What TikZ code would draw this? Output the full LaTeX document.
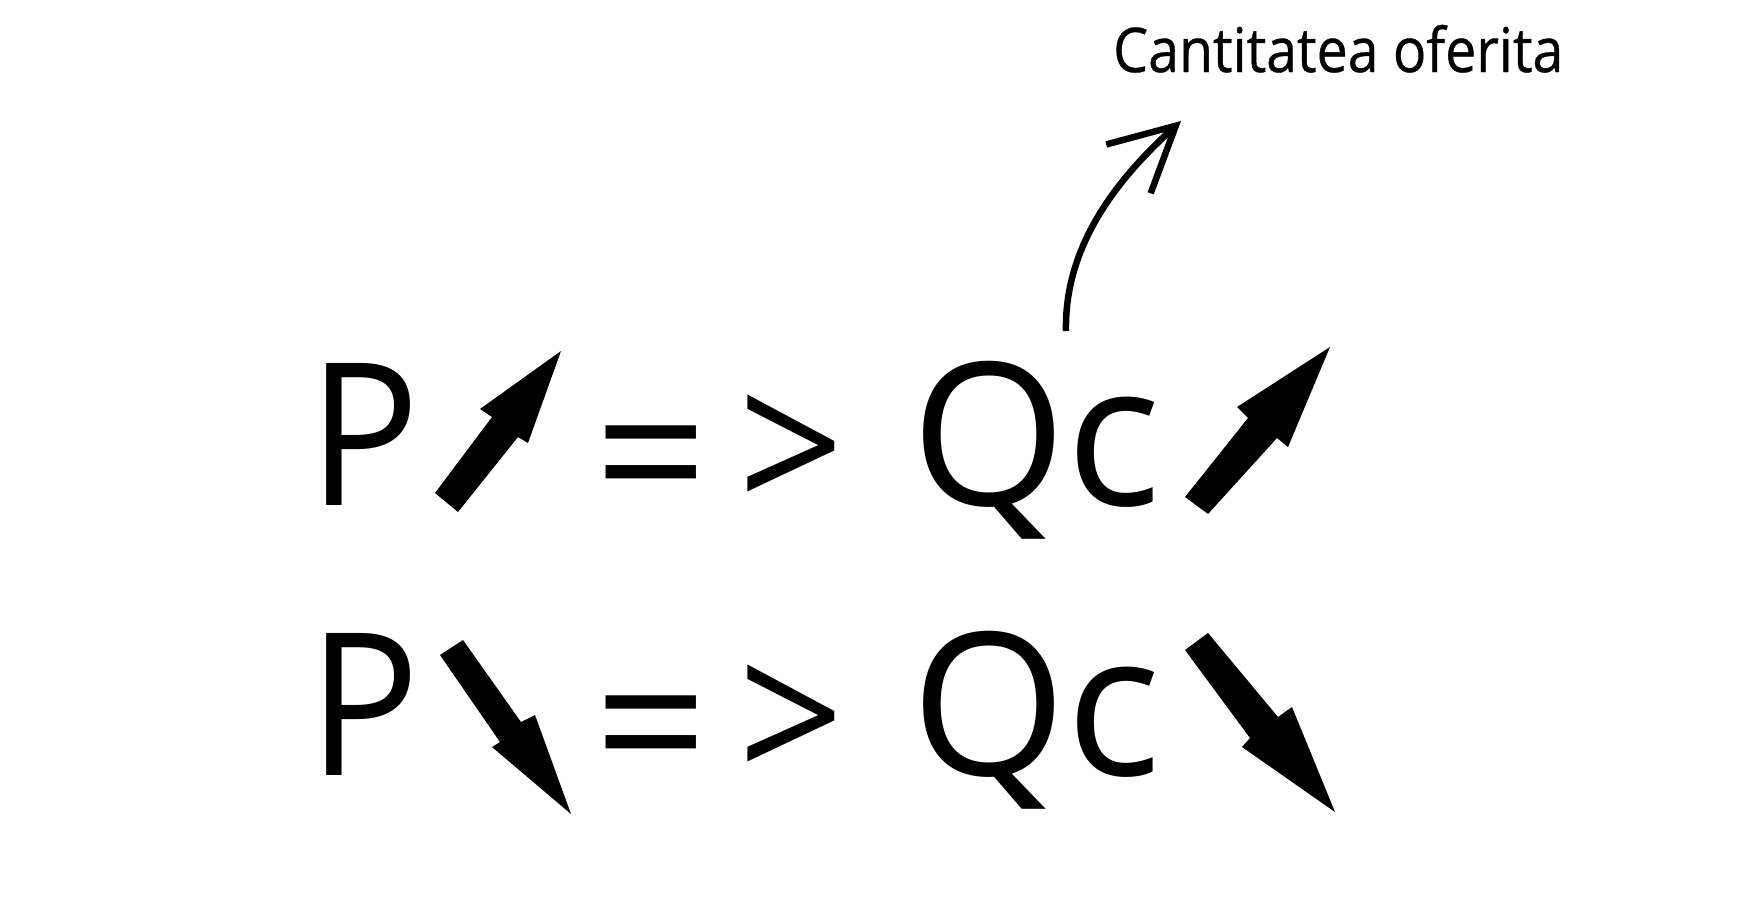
\documentclass[tikz,border=0pt]{standalone}
\usepackage{fontspec}
\setmainfont{Open Sans}
\newfontfamily\bigf[FakeStretch=0.93]{Open Sans}
\newfontfamily\qcf{Open Sans}
\newfontfamily\gtf[FakeStretch=0.93]{Open Sans}
\newfontfamily\labf[FakeStretch=0.9,FakeBold=0.6]{Open Sans}
\usetikzlibrary{arrows.meta}
\begin{document}
\begin{tikzpicture}[x=1pt,y=-1pt,
  glyph/.style={inner sep=0pt, anchor=base west, font=\bigf\fontsize{199}{199}\selectfont},
  qcglyph/.style={inner sep=0pt, anchor=base west, font=\qcf\fontsize{199}{199}\selectfont},
  gtglyph/.style={inner sep=0pt, anchor=base west, font=\gtf\fontsize{199}{199}\selectfont},
  labeltext/.style={inner sep=0pt, anchor=base west, font=\labf\fontsize{61.6}{62}\selectfont},
  blockarrow/.style={fill=black, draw=none},
  curvearrow/.style={draw=black, line width=6.5pt, -{Straight Barb[length=64pt,width=66pt,line width=6.5pt]}}]
\useasboundingbox (0,0) rectangle (1756,900);
\fill[white] (0,0) rectangle (1756,900);
% label
\node[labeltext] (lab) at (1113,72) {Cantitatea oferita};
% row 1
\node[glyph] (p1) at (308,505) {P};
\node[qcglyph] (eq1) at (594,522) {=};
\node[gtglyph] (gt1) at (738,515) {>};
\node[qcglyph] (qc1) at (911,505) {Qc};
\fill[blockarrow] (435,493) -- (492,417) -- (480,409) -- (561,351) -- (528,443) -- (518,437) -- (458,512) -- cycle;
\fill[blockarrow] (1185,497) -- (1248,418) -- (1237,407) -- (1330,347) -- (1288,447) -- (1277,438) -- (1208,514) -- cycle;
% row 2
\node[glyph] (p2) at (308,775) {P};
\node[qcglyph] (eq2) at (594,792) {=};
\node[gtglyph] (gt2) at (738,785) {>};
\node[qcglyph] (qc2) at (911,775) {Qc};
\fill[blockarrow] (463,640) -- (521,722) -- (535,715) -- (571,814) -- (492,747) -- (500,742) -- (440,655) -- cycle;
\fill[blockarrow] (1208,633) -- (1278,717) -- (1292,707) -- (1335,812) -- (1242,747) -- (1250,738) -- (1185,650) -- cycle;
% curved connector
\coordinate (cstart) at (1066,331);
\coordinate (ctip) at (1181,121);
\draw[curvearrow] (cstart) .. controls (1064,240) and (1125,172) .. (ctip);
\end{tikzpicture}
\end{document}
